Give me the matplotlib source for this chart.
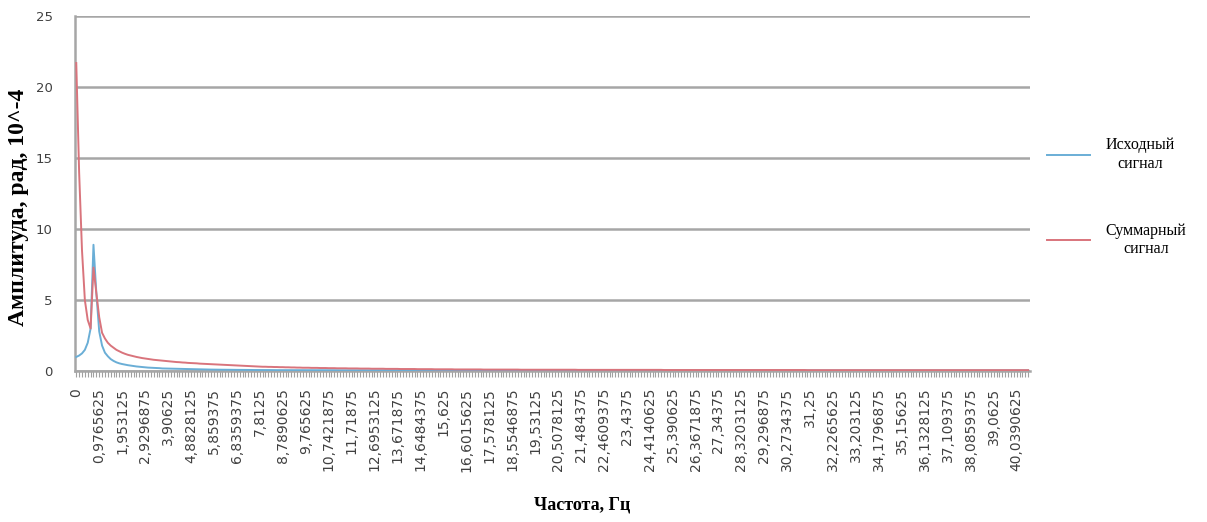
import numpy as np
import matplotlib
matplotlib.use("Agg")
import matplotlib.pyplot as plt
from matplotlib.ticker import FixedLocator, MultipleLocator

# шаг спектра, Гц (1000 Гц / 8192 отсчетов)
df = 1000 / 8192
n_points = 333
freq = np.arange(n_points) * df

# амплитуда исходного сигнала, рад * 10^-4
amp_source = [
    1.0, 1.1, 1.25, 1.5, 2.0, 3.0, 8.9, 5.5, 2.8, 1.8,
    1.3, 1.05, 0.85, 0.72, 0.62, 0.55, 0.5, 0.46, 0.42, 0.39,
    0.36, 0.33, 0.31, 0.29, 0.27, 0.25, 0.24, 0.23, 0.22, 0.21,
    0.19, 0.185, 0.18, 0.17, 0.165, 0.16, 0.155, 0.15, 0.145, 0.14,
    0.135, 0.13, 0.13, 0.125, 0.12, 0.12, 0.115, 0.11, 0.11, 0.105,
    0.10, 0.10, 0.10, 0.095, 0.095, 0.09, 0.09, 0.09, 0.085, 0.085,
    0.085, 0.08, 0.08, 0.08, 0.08, 0.075, 0.075, 0.075, 0.075, 0.07,
    0.07, 0.07, 0.07, 0.07, 0.07, 0.07, 0.07, 0.07, 0.07, 0.07,
    0.07, 0.07, 0.07, 0.065, 0.065, 0.065, 0.065, 0.065, 0.065, 0.065,
    0.065, 0.06, 0.06, 0.06, 0.06, 0.06, 0.06, 0.06, 0.06, 0.06,
    0.06, 0.06, 0.06, 0.06, 0.06, 0.06, 0.06, 0.06, 0.06, 0.06,
    0.06, 0.06, 0.06, 0.06, 0.06, 0.06, 0.06, 0.06, 0.06, 0.06,
    0.06, 0.06, 0.06, 0.06, 0.06, 0.06, 0.06, 0.06, 0.06, 0.06,
    0.06, 0.06, 0.06, 0.06, 0.06, 0.06, 0.06, 0.06, 0.06, 0.06,
    0.06, 0.06, 0.06, 0.06, 0.06, 0.06, 0.06, 0.06, 0.06, 0.06,
    0.055, 0.055, 0.055, 0.055, 0.055, 0.055, 0.055, 0.055, 0.055, 0.055,
    0.055, 0.055, 0.055, 0.055, 0.055, 0.055, 0.055, 0.055, 0.055, 0.055,
    0.055, 0.055, 0.055, 0.055, 0.055, 0.055, 0.055, 0.055, 0.055, 0.055,
    0.055, 0.055, 0.055, 0.055, 0.055, 0.055, 0.055, 0.055, 0.055, 0.055,
    0.055, 0.055, 0.055, 0.055, 0.055, 0.055, 0.055, 0.055, 0.055, 0.055,
    0.055, 0.055, 0.055, 0.055, 0.055, 0.055, 0.055, 0.055, 0.055, 0.055,
    0.055, 0.055, 0.055, 0.055, 0.055, 0.055, 0.055, 0.055, 0.055, 0.055,
    0.055, 0.055, 0.055, 0.055, 0.055, 0.055, 0.055, 0.055, 0.055, 0.055,
    0.05, 0.05, 0.05, 0.05, 0.05, 0.05, 0.05, 0.05, 0.05, 0.05,
    0.05, 0.05, 0.05, 0.05, 0.05, 0.05, 0.05, 0.05, 0.05, 0.05,
    0.05, 0.05, 0.05, 0.05, 0.05, 0.05, 0.05, 0.05, 0.05, 0.05,
    0.05, 0.05, 0.05, 0.05, 0.05, 0.05, 0.05, 0.05, 0.05, 0.05,
    0.05, 0.05, 0.05, 0.05, 0.05, 0.05, 0.05, 0.05, 0.05, 0.05,
    0.05, 0.05, 0.05, 0.05, 0.05, 0.05, 0.05, 0.05, 0.05, 0.05,
    0.05, 0.05, 0.05, 0.05, 0.05, 0.05, 0.05, 0.05, 0.05, 0.05,
    0.05, 0.05, 0.05, 0.05, 0.05, 0.05, 0.05, 0.05, 0.05, 0.05,
    0.05, 0.05, 0.05, 0.05, 0.05, 0.05, 0.05, 0.05, 0.05, 0.05,
    0.05, 0.05, 0.05, 0.05, 0.05, 0.05, 0.05, 0.05, 0.05, 0.05,
    0.05, 0.05, 0.05,
]

# амплитуда суммарного сигнала, рад * 10^-4
amp_sum = [
    21.7, 14.0, 8.5, 5.0, 3.6, 3.0, 7.3, 5.5, 3.8, 2.7,
    2.3, 2.0, 1.8, 1.65, 1.5, 1.4, 1.3, 1.22, 1.15, 1.1,
    1.05, 1.0, 0.96, 0.92, 0.89, 0.86, 0.83, 0.80, 0.78, 0.76,
    0.74, 0.72, 0.70, 0.68, 0.66, 0.64, 0.63, 0.61, 0.60, 0.58,
    0.57, 0.56, 0.55, 0.53, 0.52, 0.51, 0.50, 0.49, 0.48, 0.47,
    0.46, 0.45, 0.44, 0.43, 0.42, 0.41, 0.40, 0.39, 0.38, 0.37,
    0.36, 0.35, 0.34, 0.33, 0.32, 0.31, 0.31, 0.30, 0.30, 0.29,
    0.29, 0.28, 0.28, 0.27, 0.27, 0.26, 0.26, 0.25, 0.25, 0.24,
    0.24, 0.24, 0.23, 0.23, 0.23, 0.22, 0.22, 0.22, 0.21, 0.21,
    0.21, 0.20, 0.20, 0.20, 0.20, 0.19, 0.19, 0.19, 0.19, 0.18,
    0.18, 0.18, 0.18, 0.17, 0.17, 0.17, 0.17, 0.17, 0.16, 0.16,
    0.16, 0.16, 0.16, 0.15, 0.15, 0.15, 0.15, 0.15, 0.15, 0.14,
    0.14, 0.14, 0.14, 0.14, 0.14, 0.13, 0.13, 0.13, 0.13, 0.13,
    0.13, 0.13, 0.12, 0.12, 0.12, 0.12, 0.12, 0.12, 0.12, 0.12,
    0.12, 0.12, 0.11, 0.11, 0.11, 0.11, 0.11, 0.11, 0.11, 0.11,
    0.11, 0.11, 0.11, 0.11, 0.11, 0.10, 0.10, 0.10, 0.10, 0.10,
    0.10, 0.10, 0.10, 0.10, 0.10, 0.10, 0.10, 0.10, 0.10, 0.10,
    0.10, 0.10, 0.10, 0.10, 0.10, 0.09, 0.09, 0.09, 0.09, 0.09,
    0.09, 0.09, 0.09, 0.09, 0.09, 0.09, 0.09, 0.09, 0.09, 0.09,
    0.09, 0.09, 0.09, 0.09, 0.09, 0.09, 0.09, 0.09, 0.09, 0.09,
    0.09, 0.09, 0.09, 0.09, 0.09, 0.08, 0.08, 0.08, 0.08, 0.08,
    0.08, 0.08, 0.08, 0.08, 0.08, 0.08, 0.08, 0.08, 0.08, 0.08,
    0.08, 0.08, 0.08, 0.08, 0.08, 0.08, 0.08, 0.08, 0.08, 0.08,
    0.08, 0.08, 0.08, 0.08, 0.08, 0.08, 0.08, 0.08, 0.08, 0.08,
    0.08, 0.08, 0.08, 0.08, 0.08, 0.08, 0.08, 0.08, 0.08, 0.08,
    0.08, 0.08, 0.08, 0.08, 0.08, 0.07, 0.07, 0.07, 0.07, 0.07,
    0.07, 0.07, 0.07, 0.07, 0.07, 0.07, 0.07, 0.07, 0.07, 0.07,
    0.07, 0.07, 0.07, 0.07, 0.07, 0.07, 0.07, 0.07, 0.07, 0.07,
    0.07, 0.07, 0.07, 0.07, 0.07, 0.07, 0.07, 0.07, 0.07, 0.07,
    0.07, 0.07, 0.07, 0.07, 0.07, 0.07, 0.07, 0.07, 0.07, 0.07,
    0.07, 0.07, 0.07, 0.07, 0.07, 0.07, 0.07, 0.07, 0.07, 0.07,
    0.07, 0.07, 0.07, 0.07, 0.07, 0.07, 0.07, 0.07, 0.07, 0.07,
    0.07, 0.07, 0.07, 0.07, 0.07, 0.07, 0.07, 0.07, 0.07, 0.07,
    0.07, 0.07, 0.07,
]

label_step = 8
tick_labels = [f"{f:.10g}".replace(".", ",") for f in freq[::label_step]]

fig = plt.figure(figsize=(12.07, 5.22), dpi=100)
ax = fig.add_axes([0.062, 0.289, 0.791, 0.68])

x = np.arange(n_points)
ax.plot(x, amp_source, color="#6aaed6", lw=1.4, label="Исходный\nсигнал", zorder=3)
ax.plot(x, amp_sum, color="#d9747c", lw=1.4, label="Суммарный\nсигнал", zorder=3)

ax.set_xlim(-0.5, n_points - 0.5)
ax.set_ylim(0, 25)
ax.set_yticks(range(0, 26, 5))
ax.yaxis.grid(True, color="#a6a6a6", lw=1.8)
ax.set_axisbelow(True)

ax.xaxis.set_major_locator(FixedLocator(x[::label_step]))
ax.set_xticklabels(tick_labels, rotation=90, fontsize=10, color="#404040",
                   family="DejaVu Sans")
ax.xaxis.set_minor_locator(MultipleLocator(1))
ax.tick_params(axis="x", which="both", direction="out", length=4,
               color="#a0a0a0", width=0.8, pad=8)
ax.tick_params(axis="y", length=0, labelsize=9.5, labelcolor="#404040", pad=16)

for side in ["top", "right"]:
    ax.spines[side].set_visible(False)
for side in ["left", "bottom"]:
    ax.spines[side].set_color("#a6a6a6")
    ax.spines[side].set_linewidth(1.8)

fig.text(19 / 1207, 1 - 207 / 522, "Амплитуда, рад, 10^-4", rotation=90,
         ha="center", va="center", family="Liberation Serif",
         fontweight="bold", fontsize=17)
fig.text(582 / 1207, 1 - 505 / 522, "Частота, Гц", ha="center", va="center",
         family="Liberation Serif", fontweight="bold", fontsize=13)

leg = ax.legend(loc="center left", bbox_to_anchor=(1.018, 0.49), frameon=False,
                borderaxespad=0, borderpad=0, handlelength=2.7,
                handletextpad=1.0, labelspacing=3.2,
                prop={"family": "Liberation Serif", "size": 11.5})
for t in leg.get_texts():
    t.set_multialignment("center")

fig.savefig("out.png", dpi=100)
